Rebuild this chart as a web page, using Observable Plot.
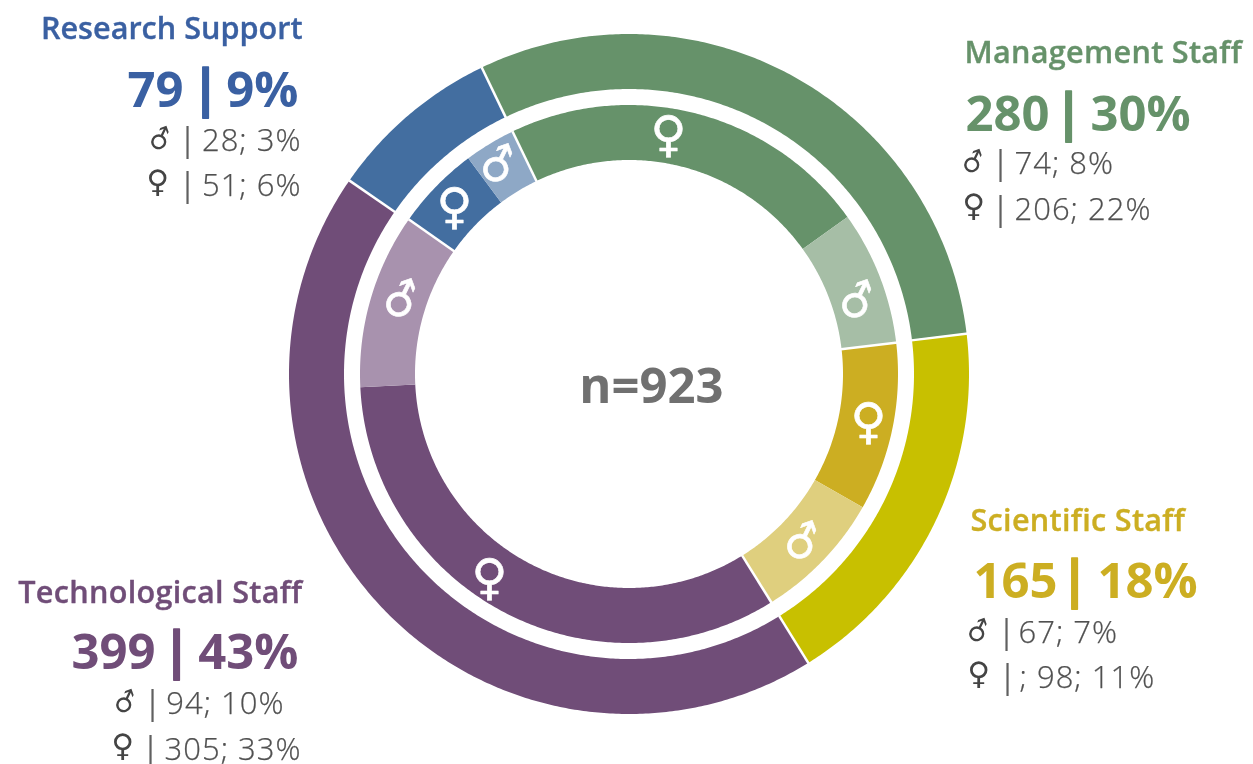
<!DOCTYPE html>
<html><head><meta charset="utf-8">
<script src="https://cdn.jsdelivr.net/npm/d3@7"></script>
<script src="https://cdn.jsdelivr.net/npm/@observablehq/plot@0.6"></script>
<style>html,body{margin:0;padding:0;background:#fff}svg{display:block;will-change:transform}.row text{letter-spacing:1px}.ttl text{letter-spacing:.3px}</style>
</head><body><div id="chart"></div>
<script>
// Data
const categories = ["Management Staff","Scientific Staff","Technological Staff","Research Support"];
const totals = [280,165,399,79];
const totalPct = [30,18,43,9];
const maleCounts = [74,67,94,28];
const malePct = [8,7,10,3];
const femaleCounts = [206,98,305,51];
const femalePct = [22,11,33,6];
const grandTotal = 923;
// Arc sizes as drawn in the picture, degrees clockwise
const outerArcs = [108.8,65.1,156.5,29.6];
const innerArcs = [80.0,28.9,36.5,28.4,119.1,37.9,18.2,11.0];

// Colours
const outerColors = ["#66926a","#c8c000","#704d78","#436ea0"];
const femaleColors = ["#66926a","#ccae22","#704d78","#436ea0"];
const maleColors = ["#a6bea6","#dfcf7e","#a892ae","#8ea8c6"];
const titleColors = ["#66926a","#ccae22","#704d78","#3a60a2"];

// Layout (pixels, mapped by identity scales)
const W = 1253, H = 764, cx = 629, cy = 374;
const ringOuter = [285, 340], ringInner = [214, 269];
const startDeg = -25.7;
const maleSymbol = "\u2642", femaleSymbol = "\u2640";
const labelPos = [
  {anchor:"start", title:[964,62], num:[965,"start"], pipe:1068, pct:[1090,"start"], bigY:130, male:[1014,173], female:[1014,219], mp:1000, fp:1000, ms:973, fs:973},
  {anchor:"start", title:[970,530], num:[973,"start"], pipe:1074, pct:[1097,"start"], bigY:597, male:[1018,642], female:[1019,687], mp:1006, fp:1007, ms:978, fs:978},
  {anchor:"end", title:[302,602], num:[155,"end"], pipe:176, pct:[298,"end"], bigY:668, male:[284,713], female:[301,759], mp:152, fp:150, ms:125, fs:122},
  {anchor:"end", title:[302,38], num:[183,"end"], pipe:205, pct:[298,"end"], bigY:106, male:[301,150], female:[301,195], mp:187, fp:187, ms:160, fs:157}
];
const ringSymbols = [
  [668,135,"f"],[857,301,"m"],[868,422,"f"],[802,542,"m"],
  [489,578,"f"],[401,300,"m"],[454,207,"f"],[498,165,"m"]
];

const polar = (deg, r) => {
  const a = deg * Math.PI / 180;
  return [cx + r * Math.sin(a), cy - r * Math.cos(a)];
};

function slices(arcs, colors, radii, prefix) {
  let a = startDeg;
  const out = [];
  arcs.forEach((v, i) => {
    const a1 = a + v;
    const n = Math.max(2, Math.ceil((a1 - a) * 2));
    for (let k = 0; k <= n; k++) {
      const t = a + (a1 - a) * k / n;
      const [x1, y1] = polar(t, radii[0]);
      const [x2, y2] = polar(t, radii[1]);
      out.push({id: prefix + i, fill: colors[i], x1, y1, x2, y2});
    }
    a = a1;
  });
  return out;
}

const innerColors = [];
categories.forEach((_, i) => innerColors.push(femaleColors[i], maleColors[i]));

function separators(arcs, radii, step) {
  let a = startDeg;
  const out = [];
  arcs.forEach((v, i) => {
    if (i % step === 0) {
      const [x1, y1] = polar(a, radii[0] - 1);
      const [x2, y2] = polar(a, radii[1] + 1);
      out.push({x1, y1, x2, y2});
    }
    a += v;
  });
  return out;
}

const outerArea = slices(outerArcs, outerColors, ringOuter, "o");
const innerArea = slices(innerArcs, innerColors, ringInner, "i");
const seps = [...separators(outerArcs, ringOuter, 1), ...separators(innerArcs, ringInner, 2)];

const titles = [], bigs = [], pipes = [], rows = [], rowPipes = [], syms = [];
categories.forEach((c, i) => {
  const p = labelPos[i];
  titles.push({t: c, x: p.title[0], y: p.title[1], a: p.anchor, c: titleColors[i], k: i < 3 ? "ttl" : "ttl0"});
  bigs.push({t: `${totals[i]}`, x: p.num[0], y: p.bigY, a: p.num[1], c: titleColors[i]});
  bigs.push({t: `${totalPct[i]}%`, x: p.pct[0], y: p.bigY, a: p.pct[1], c: titleColors[i]});
  pipes.push({t: "|", x: p.pipe, y: p.bigY, a: "middle", c: titleColors[i]});
  rows.push({t: `${maleCounts[i]}; ${malePct[i]}%`, x: p.male[0], y: p.male[1], a: p.anchor});
  const semi = i === 1 ? "; " : "";
  rows.push({t: `${semi}${femaleCounts[i]}; ${femalePct[i]}%`, x: p.female[0], y: p.female[1], a: p.anchor});
  rowPipes.push({t: "|", x: p.mp, y: p.male[1]}, {t: "|", x: p.fp, y: p.female[1]});
  syms.push({t: maleSymbol, x: p.ms, y: p.male[1] - 11, r: -20, s: 27});
  syms.push({t: femaleSymbol, x: p.fs, y: p.female[1] - 13, r: 0, s: 31});
});
const ringSym = ringSymbols.map(([x, y, g]) => ({x, y, t: g === "f" ? femaleSymbol : maleSymbol, r: g === "f" ? 0 : -20, s: g === "f" ? 49 : 44}));

const sans = "'Open Sans', sans-serif";
const symFont = "'DejaVu Sans'";
const textMark = (data, anchor, o) => Plot.text(data, {x:"x", y:"y", text:"t", textAnchor: anchor, lineAnchor:"bottom", fontFamily: sans, ...o});
const anchored = (data, o) => ["start","end"].map(a => textMark(data.filter(d => d.a === a), a, o));
const symMarks = (data, o) => d3.groups(data, d => `${d.r}/${d.s}`).map(([, g]) =>
  Plot.text(g, {x:"x", y:"y", text:"t", rotate:g[0].r, fontSize:g[0].s, fontFamily:symFont, lineAnchor:"middle", ...o}));

const chart = Plot.plot({
  width: W, height: H, margin: 0,
  x: {type:"linear", domain:[0,W], range:[0,W], axis:null},
  y: {type:"linear", domain:[0,H], range:[0,H], axis:null},
  marks: [
    Plot.area(outerArea, {x1:"x1", y1:"y1", x2:"x2", y2:"y2", z:"id", fill:"fill"}),
    Plot.area(innerArea, {x1:"x1", y1:"y1", x2:"x2", y2:"y2", z:"id", fill:"fill"}),
    Plot.link(seps, {x1:"x1", y1:"y1", x2:"x2", y2:"y2", stroke:"#fff", strokeWidth:2.5}),
    ...symMarks(ringSym, {fill:"#fff", stroke:"#fff", strokeWidth:0.6}),
    ...symMarks(syms, {fill:"#444"}),
    ...titles.map(d => textMark([d], d.a, {fill:d.c, stroke:d.c, strokeWidth:0.35, fontSize:30.6, fontWeight:600, className:d.k})),
    ...bigs.map(d => textMark([d], d.a, {fill:d.c, fontSize:49, fontWeight:700})),
    ...pipes.map(d => textMark([d], d.a, {fill:d.c, stroke:d.c, strokeWidth:1.5, fontSize:52, fontWeight:700})),
    ...anchored(rows, {fill:"#505050", stroke:"#505050", strokeWidth:0.25, fontSize:31, fontWeight:300, className:"row"}),
    textMark(rowPipes, "middle", {fill:"#606060", fontSize:32, fontWeight:400}),
    Plot.text([`n=${grandTotal}`], {x:()=>651, y:()=>402, text:d=>d, fill:"#707070", fontSize:49, fontWeight:700, fontFamily:sans, lineAnchor:"bottom", textAnchor:"middle"})
  ]
});
document.getElementById("chart").appendChild(chart);
</script></body></html>
